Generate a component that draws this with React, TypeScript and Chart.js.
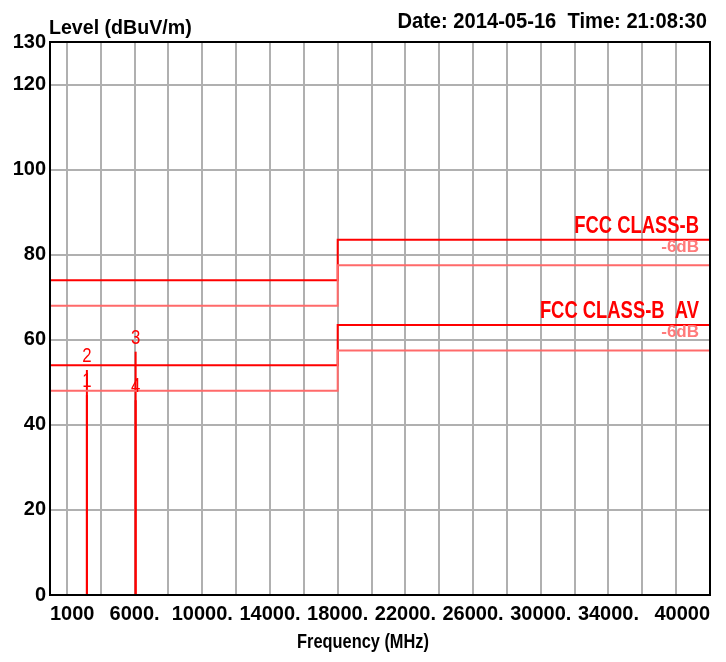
import React, { useEffect, useRef } from 'react';
import { Chart, registerables } from 'chart.js';

Chart.register(...registerables);

// ---- data ----
const limitFreqs = [1000, 18000, 40000];
const peakLimit = [74, 83.5, 83.5];
const peakLimitMargin = [68, 77.5, 77.5];
const avLimit = [54, 63.5, 63.5];
const avLimitMargin = [48, 57.5, 57.5];

const markerIds = ['1', '2', '3', '4'];
const markerFreqs = [3180, 3180, 6060, 6060];
const markerLevels = [47.0, 52.9, 57.2, 45.8];

const xGridValues = [2000, 4000, 6000, 8000, 10000, 12000, 14000, 16000, 18000, 20000, 22000, 24000, 26000, 28000, 30000, 32000, 34000, 36000, 38000];
const xLabelValues = [1000, 6000, 10000, 14000, 18000, 22000, 26000, 30000, 34000, 40000];
const xLabelTexts = ['1000', '6000.', '10000.', '14000.', '18000.', '22000.', '26000.', '30000.', '34000.', '40000'];
const yTickValues = [0, 20, 40, 60, 80, 100, 120, 130];

const titleText = 'Level (dBuV/m)';
const dateText = 'Date: 2014-05-16  Time: 21:08:30';
const xTitleText = 'Frequency (MHz)';
const peakLimitName = 'FCC CLASS-B';
const avLimitName = 'FCC CLASS-B  AV';
const marginName = '-6dB';

const FONT = '"Liberation Sans", Arial, sans-serif';

function drawText(ctx: CanvasRenderingContext2D, text: string, x: number, y: number, font: string, sx: number, align: CanvasTextAlign, color: string) {
  ctx.save();
  ctx.font = font;
  ctx.fillStyle = color;
  ctx.textBaseline = 'alphabetic';
  ctx.textAlign = align;
  ctx.translate(x, y);
  ctx.scale(sx, 1);
  ctx.fillText(text, 0, 0);
  ctx.restore();
}

const textPlugin = {
  id: 'textPlugin',
  afterDraw(chart: any) {
    const ctx: CanvasRenderingContext2D = chart.ctx;
    const area = chart.chartArea;
    const xs = chart.scales.x;
    const ys = chart.scales.y;
    // frame
    ctx.save();
    ctx.strokeStyle = '#000';
    ctx.lineWidth = 2;
    ctx.strokeRect(area.left, area.top, area.right - area.left, area.bottom - area.top);
    ctx.restore();

    drawText(ctx, titleText, area.left - 1, 34, `bold 20px ${FONT}`, 0.98, 'left', '#000');
    drawText(ctx, dateText, area.right - 3, 28, `bold 22px ${FONT}`, 0.915, 'right', '#000');
    drawText(ctx, xTitleText, chart.width / 2, 648, `bold 21px ${FONT}`, 0.78, 'center', '#000');

    const rx = area.right - 11;
    const pY = ys.getPixelForValue(peakLimit[peakLimit.length - 1]);
    const aY = ys.getPixelForValue(avLimit[avLimit.length - 1]);
    drawText(ctx, peakLimitName, rx, pY - 7, `bold 23px ${FONT}`, 0.8, 'right', '#ff0000');
    drawText(ctx, marginName, rx, pY + 12.5, `bold 17px ${FONT}`, 1.0, 'right', '#ff7a7a');
    drawText(ctx, avLimitName, rx, aY - 7, `bold 23px ${FONT}`, 0.8, 'right', '#ff0000');
    drawText(ctx, marginName, rx, aY + 12.5, `bold 17px ${FONT}`, 1.0, 'right', '#ff7a7a');

    for (let i = 0; i < markerIds.length; i++) {
      const px = xs.getPixelForValue(markerFreqs[i]);
      const py = ys.getPixelForValue(markerLevels[i]);
      drawText(ctx, markerIds[i], px, py - 8, `21px ${FONT}`, 0.8, 'center', '#ff0000');
    }
  },
};

function stepData(freqs: number[], levels: number[]) {
  return freqs.map((f, i) => ({ x: f, y: levels[i] }));
}

export default function App() {
  const ref = useRef<HTMLCanvasElement>(null);
  useEffect(() => {
    if (!ref.current) return;
    const limitStyle = (color: string) => ({
      borderColor: color,
      borderWidth: 2,
      pointRadius: 0,
      stepped: 'before' as const,
      fill: false,
    });
    const markerSets = markerIds.map((id, i) => ({
      label: 'marker' + id,
      data: [
        { x: markerFreqs[i], y: 0 },
        { x: markerFreqs[i], y: markerLevels[i] },
      ],
      borderColor: '#ff0000',
      borderWidth: 2,
      pointRadius: 0,
      fill: false,
    }));
    const chart = new Chart(ref.current, {
      type: 'line',
      data: {
        datasets: [
          { label: 'peakMargin', data: stepData(limitFreqs, peakLimitMargin), ...limitStyle('#ff6a6a') },
          { label: 'avMargin', data: stepData(limitFreqs, avLimitMargin), ...limitStyle('#ff6a6a') },
          { label: 'peak', data: stepData(limitFreqs, peakLimit), ...limitStyle('#ff0000') },
          { label: 'av', data: stepData(limitFreqs, avLimit), ...limitStyle('#ff0000') },
          ...markerSets,
        ] as any,
      },
      options: {
        responsive: false,
        animation: false,
        events: [],
        layout: { padding: { top: 42, right: 16, left: 0, bottom: 0 } },
        plugins: { legend: { display: false }, tooltip: { enabled: false }, title: { display: false } },
        scales: {
          x: {
            type: 'linear',
            min: 1000,
            max: 40000,
            afterBuildTicks: (scale: any) => {
              const vals = Array.from(new Set([...xLabelValues, ...xGridValues])).sort((a, b) => a - b);
              scale.ticks = vals.map((v) => ({ value: v }));
            },
            afterFit: (scale: any) => {
              scale.height = 67;
            },
            ticks: {
              autoSkip: false,
              maxRotation: 0,
              minRotation: 0,
              align: 'inner',
              padding: 7,
              color: '#000',
              font: { family: FONT, size: 20, weight: 'bold' },
              callback: (value: any) => {
                const idx = xLabelValues.indexOf(Number(value));
                return idx >= 0 ? xLabelTexts[idx] : '';
              },
            },
            grid: { color: '#b0b0b0', lineWidth: 2, drawTicks: false },
            border: { display: false },
          },
          y: {
            type: 'linear',
            min: 0,
            max: 130,
            afterBuildTicks: (scale: any) => {
              scale.ticks = yTickValues.map((v) => ({ value: v }));
            },
            afterFit: (scale: any) => {
              scale.width = 50;
            },
            ticks: {
              autoSkip: false,
              padding: 4,
              color: '#000',
              font: { family: FONT, size: 20, weight: 'bold' },
              callback: (value: any) => String(value),
            },
            grid: { color: '#b0b0b0', lineWidth: 2, drawTicks: false },
            border: { display: false },
          },
        },
      } as any,
      plugins: [textPlugin],
    });
    return () => chart.destroy();
  }, []);
  return (
    <div style={{ position: 'fixed', left: 0, top: 0, width: 726, height: 662, background: '#fff' }}>
      <canvas ref={ref} width={726} height={662} style={{ display: 'block' }} />
    </div>
  );
}
